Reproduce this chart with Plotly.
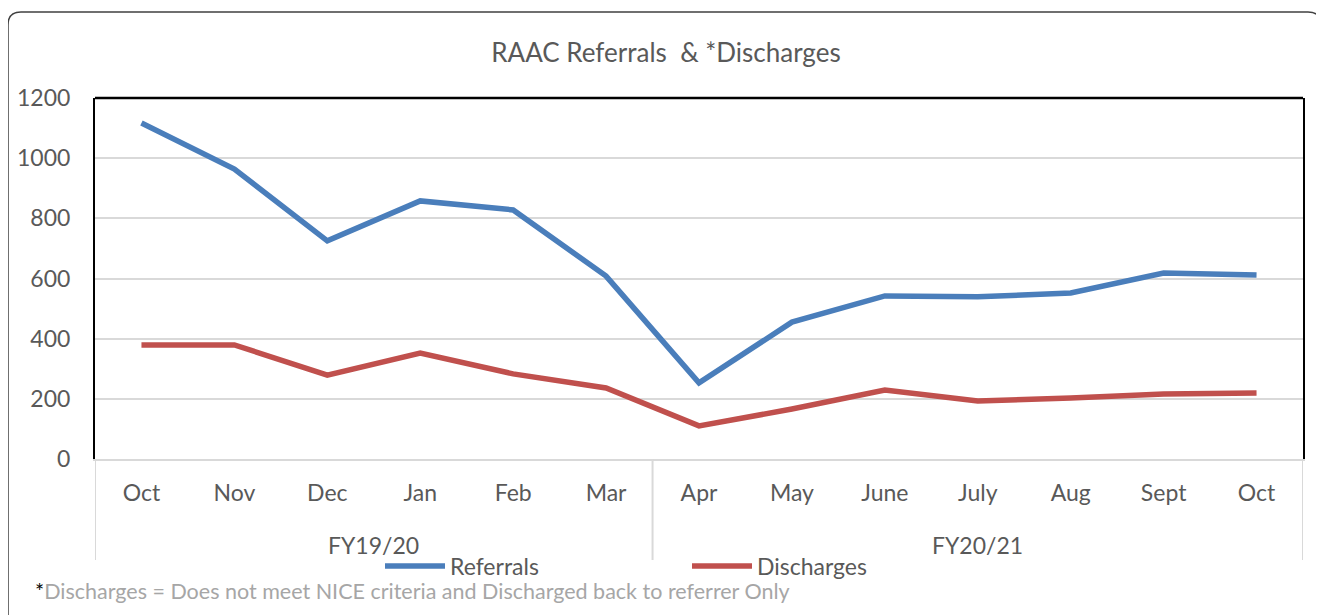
import plotly.graph_objects as go

months = ["Oct", "Nov", "Dec", "Jan", "Feb", "Mar", "Apr", "May", "June", "July", "Aug", "Sept", "Oct"]
fiscal_years = ["FY19/20"] * 6 + ["FY20/21"] * 7
referrals = [1117, 964, 725, 858, 828, 608, 253, 455, 542, 539, 552, 618, 612]
discharges = [379, 379, 279, 352, 283, 236, 110, 166, 229, 193, 203, 216, 219]
y_ticks = [0, 200, 400, 600, 800, 1000, 1200]

FONT = "Lato"
GREY = "#595959"
OFF = 8  # page body margin

keys = [f"{fy} {m}" for fy, m in zip(fiscal_years, months)]

# layout in target (screen) pixels
SCR_W, SCR_H = 1324, 615
W, H = SCR_W - OFF, SCR_H - OFF
PL, PR, PT, PB = 95, 1303, 98, 459  # plot area edges on screen
L, T = PL - OFF, PT - OFF
R = W - (PR - OFF)
B = H - (PB - OFF)
pw, ph = PR - PL, PB - PT


def px(x):
    return (x - PL) / pw


def py(y):
    return (PB - y) / ph


fig = go.Figure()
fig.add_trace(go.Scatter(x=keys, y=referrals, mode="lines", name="Referrals",
                         line=dict(color="#4A7EBB", width=5.5), legend="legend"))
fig.add_trace(go.Scatter(x=keys, y=discharges, mode="lines", name="Discharges",
                         line=dict(color="#C0504D", width=5.5), legend="legend2"))

leg_common = dict(orientation="h", yanchor="middle", y=py(566), xanchor="left",
                  font=dict(size=23, color=GREY, family=FONT), itemwidth=60,
                  bgcolor="rgba(0,0,0,0)", borderwidth=0)

fig.update_layout(
    width=W, height=H,
    margin=dict(l=L, r=R, t=T, b=B, autoexpand=False),
    paper_bgcolor="white", plot_bgcolor="white",
    font=dict(family=FONT, color=GREY, size=23),
    title=dict(text="RAAC Referrals &nbsp;& *Discharges", x=(666 - OFF) / W, xanchor="center",
               y=1 - (53 - OFF) / H, yanchor="middle", font=dict(size=26, color=GREY, family=FONT)),
    showlegend=True,
    legend=dict(x=px(380), **leg_common),
    legend2=dict(x=px(687), **leg_common),
    xaxis=dict(type="category", range=[-0.5, len(keys) - 0.5], tickvals=keys, ticktext=months,
               showgrid=False, showline=True, linecolor="#D9D9D9", linewidth=2, ticks="",
               ticklabelstandoff=12, automargin=False, tickfont=dict(size=23, color=GREY)),
    yaxis=dict(range=[0, 1200], tickvals=y_ticks, showgrid=True, gridcolor="#D9D9D9",
               gridwidth=1.5, showline=True, linecolor="black", linewidth=2, mirror=True,
               ticks="", ticklabelstandoff=18, zeroline=False, automargin=False,
               tickfont=dict(size=23, color=GREY)),
)

# top border of plot area
fig.add_shape(type="line", xref="paper", yref="paper", x0=0, x1=1, y0=1, y1=1,
              line=dict(color="black", width=2.5))

# fiscal-year group labels and dividers
groups = []
for i, fy in enumerate(fiscal_years):
    if not groups or groups[-1][0] != fy:
        groups.append([fy, i, i])
    else:
        groups[-1][2] = i
div_bottom = py(560)
for fy, i0, i1 in groups:
    fig.add_annotation(xref="x", yref="paper", x=(i0 + i1) / 2, y=py(545), text=fy,
                       showarrow=False, xanchor="center", yanchor="middle",
                       font=dict(size=23, color=GREY, family=FONT))
    fig.add_shape(type="line", xref="x", yref="paper", x0=i0 - 0.5, x1=i0 - 0.5,
                  y0=0, y1=div_bottom, line=dict(color="#D9D9D9", width=2))
fig.add_shape(type="line", xref="x", yref="paper", x0=len(keys) - 0.5, x1=len(keys) - 0.5,
              y0=0, y1=div_bottom, line=dict(color="#D9D9D9", width=2))

# rounded outer frame
x0, x1 = px(8), px(1321)
y1, y0 = py(12), py(660)
rx, ry = 13 / pw, 13 / ph
path = (f"M {x0 + rx},{y1} L {x1 - rx},{y1} Q {x1},{y1} {x1},{y1 - ry} "
        f"L {x1},{y0 + ry} Q {x1},{y0} {x1 - rx},{y0} L {x0 + rx},{y0} "
        f"Q {x0},{y0} {x0},{y0 + ry} L {x0},{y1 - ry} Q {x0},{y1} {x0 + rx},{y1} Z")
fig.add_shape(type="path", xref="paper", yref="paper", path=path,
              line=dict(color="#404040", width=1.5), layer="below")

fig.add_annotation(xref="paper", yref="paper", x=px(33), y=py(591), xanchor="left",
                   yanchor="middle", showarrow=False,
                   text="<span style='color:black'>*</span>Discharges = Does not meet NICE criteria and Discharged back to referrer Only",
                   font=dict(size=21.5, color="#A6A6A6", family=FONT))

fig.write_html("out.html")
